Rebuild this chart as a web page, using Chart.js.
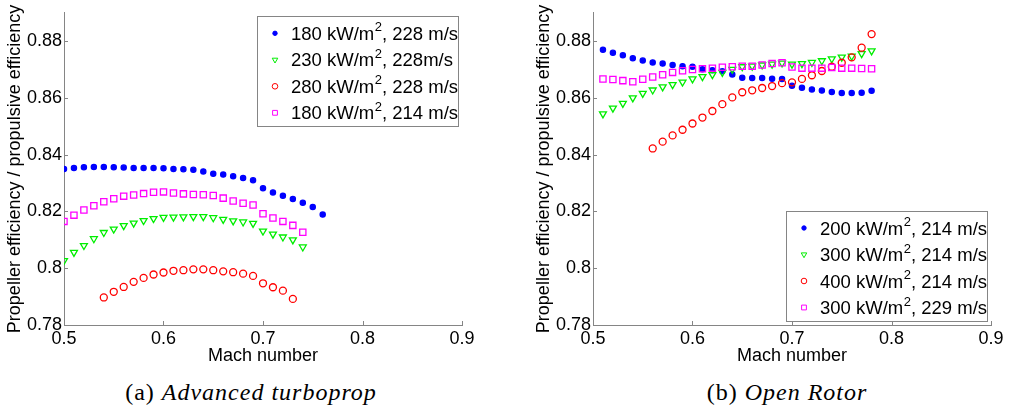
<!DOCTYPE html>
<html lang="en">
<head>
    <meta charset="UTF-8">
    <title>Propeller efficiency vs Mach number</title>
    <script src="https://cdn.jsdelivr.net/npm/chart.js"></script>

    <style>
        body {
            margin: 0;
            background: #fff;
            width: 1013px;
            height: 415px;
            position: relative;
            overflow: hidden;
        }

        canvas {
            position: absolute;
            top: 0;
        }

        #chartA { left: 0; }
        #chartB { left: 529px; }

        .caption {
            position: absolute;
            top: 378px;
            width: 500px;
            text-align: center;
            font-family: "Liberation Serif", "Times New Roman", serif;
            font-size: 24px;
            line-height: 28px;
            letter-spacing: 1px;
            color: #000;
        }
    </style>
</head>
<body>

    <canvas id="chartA" width="484" height="370"></canvas>
    <canvas id="chartB" width="484" height="370"></canvas>

    <div class="caption" style="left: 1px;">(a) <i>Advanced turboprop</i></div>
    <div class="caption" style="left: 537px;">(b) <i>Open Rotor</i></div>

    <script>
        // axes
        const xTicks = [0.5, 0.6, 0.7, 0.8, 0.9];
        const yTicks = [0.78, 0.8, 0.82, 0.84, 0.86, 0.88];

        // (a) advanced turboprop
        const machA = [0.50, 0.51, 0.52, 0.53, 0.54, 0.55, 0.56, 0.57, 0.58, 0.59,
                       0.60, 0.61, 0.62, 0.63, 0.64, 0.65, 0.66, 0.67, 0.68, 0.69,
                       0.70, 0.71, 0.72, 0.73, 0.74, 0.75, 0.76];
        const labelsA = ['180 kW/m^2, 228 m/s', '230 kW/m^2, 228m/s', '280 kW/m^2, 228 m/s', '180 kW/m^2, 214 m/s'];
        const effA180 = [0.8350, 0.8353, 0.8356, 0.8357, 0.8357, 0.8356, 0.8355, 0.8353, 0.8353, 0.8353,
                         0.8352, 0.8350, 0.8349, 0.8347, 0.8341, 0.8333, 0.8330, 0.8324, 0.8318, 0.8310,
                         0.8282, 0.8267, 0.8255, 0.8244, 0.8231, 0.8216, 0.8189];
        const effA230 = [0.8027, 0.8056, 0.8080, 0.8104, 0.8126, 0.8138, 0.8150, 0.8159, 0.8168, 0.8175,
                         0.8179, 0.8180, 0.8181, 0.8182, 0.8182, 0.8178, 0.8172, 0.8167, 0.8163, 0.8158,
                         0.8131, 0.8120, 0.8110, 0.8100, 0.8075];
        const effA280 = [0.7897, 0.7917, 0.7934, 0.7952, 0.7966, 0.7978, 0.7985, 0.7991, 0.7993, 0.7996,
                         0.7996, 0.7993, 0.7989, 0.7986, 0.7981, 0.7973, 0.7947, 0.7933, 0.7921, 0.7892];
        const effA180b = [0.8165, 0.8187, 0.8205, 0.8220, 0.8234, 0.8245, 0.8254, 0.8258, 0.8263, 0.8268,
                          0.8269, 0.8265, 0.8262, 0.8260, 0.8259, 0.8256, 0.8247, 0.8237, 0.8229, 0.8223,
                          0.8192, 0.8177, 0.8165, 0.8151, 0.8127];

        // (b) open rotor
        const machB = [0.51, 0.52, 0.53, 0.54, 0.55, 0.56, 0.57, 0.58, 0.59, 0.60,
                       0.61, 0.62, 0.63, 0.64, 0.65, 0.66, 0.67, 0.68, 0.69, 0.70,
                       0.71, 0.72, 0.73, 0.74, 0.75, 0.76, 0.77, 0.78];
        const labelsB = ['200 kW/m^2, 214 m/s', '300 kW/m^2, 214 m/s', '400 kW/m^2, 214 m/s', '300 kW/m^2, 229 m/s'];
        const effB200 = [0.8770, 0.8759, 0.8750, 0.8740, 0.8732, 0.8725, 0.8721, 0.8716, 0.8712, 0.8710,
                         0.8701, 0.8698, 0.8694, 0.8683, 0.8671, 0.8670, 0.8670, 0.8668, 0.8667, 0.8643,
                         0.8636, 0.8630, 0.8626, 0.8621, 0.8617, 0.8617, 0.8618, 0.8625];
        const effB300 = [0.8544, 0.8564, 0.8581, 0.8600, 0.8616, 0.8628, 0.8639, 0.8647, 0.8656, 0.8667,
                         0.8675, 0.8682, 0.8690, 0.8701, 0.8710, 0.8712, 0.8716, 0.8719, 0.8723, 0.8719,
                         0.8721, 0.8725, 0.8731, 0.8738, 0.8744, 0.8747, 0.8756, 0.8766];
        const effB400 = [0.8422, 0.8446, 0.8468, 0.8488, 0.8510, 0.8531, 0.8554, 0.8578, 0.8602, 0.8620,
                         0.8627, 0.8635, 0.8642, 0.8652, 0.8655, 0.8667, 0.8680, 0.8695, 0.8710, 0.8724,
                         0.8743, 0.8777, 0.8825];
        const effB300b = [0.8667, 0.8665, 0.8661, 0.8657, 0.8666, 0.8674, 0.8682, 0.8690, 0.8696, 0.8700,
                          0.8703, 0.8705, 0.8708, 0.8710, 0.8712, 0.8712, 0.8716, 0.8721, 0.8724, 0.8709,
                          0.8705, 0.8705, 0.8705, 0.8707, 0.8705, 0.8705, 0.8704, 0.8703];

        const axisGray = '#858585';
        const fontFamily = '"Liberation Sans", Arial, Helvetica, sans-serif';

        Chart.defaults.font.family = fontFamily;
        Chart.defaults.font.size = 18;
        Chart.defaults.color = '#000';

        // marker look per series slot: blue dots, green down-triangles, red circles, magenta squares
        const markers = [
            { pointStyle: 'circle', color: '#0000ff', fill: '#0000ff', radius: 2.6, legendRadius: 2.2, rotation: 0 },
            { pointStyle: 'triangle', color: '#00ee00', fill: 'rgba(0,0,0,0)', radius: 4, legendRadius: 3.2, rotation: 180 },
            { pointStyle: 'circle', color: '#ff0000', fill: 'rgba(0,0,0,0)', radius: 3.5, legendRadius: 2.8, rotation: 0 },
            { pointStyle: 'rect', color: '#ff00ff', fill: 'rgba(0,0,0,0)', radius: 4.4, legendRadius: 3.4, rotation: 0 }
        ];

        function toPoints(xs, ys) {
            return ys.map((y, i) => ({ x: xs[i], y: y }));
        }

        function makeDataset(label, xs, ys, slot) {
            const m = markers[slot];
            return {
                label: label,
                data: toPoints(xs, ys),
                showLine: false,
                pointStyle: m.pointStyle,
                pointRotation: m.rotation,
                pointRadius: m.radius,
                pointBorderWidth: 1.3,
                pointBorderColor: m.color,
                pointBackgroundColor: m.fill,
                borderColor: m.color,
                backgroundColor: m.fill,
                legendRadius: m.legendRadius,
                order: 4 - slot
            };
        }

        // small tick marks pointing into the plot, like the matlab axes
        const innerTicks = {
            id: 'innerTicks',
            afterDraw(chart) {
                const { ctx, chartArea, scales } = chart;
                ctx.save();
                ctx.strokeStyle = axisGray;
                ctx.lineWidth = 1;
                ctx.beginPath();
                scales.x.ticks.forEach(t => {
                    const px = Math.round(scales.x.getPixelForValue(t.value)) + 0.5;
                    ctx.moveTo(px, chartArea.bottom);
                    ctx.lineTo(px, chartArea.bottom - 4);
                });
                scales.y.ticks.forEach(t => {
                    const py = Math.round(scales.y.getPixelForValue(t.value)) + 0.5;
                    ctx.moveTo(chartArea.left, py);
                    ctx.lineTo(chartArea.left + 4, py);
                });
                ctx.stroke();
                ctx.restore();
            }
        };

        function drawMarker(ctx, ds, x, y) {
            ctx.fillStyle = ds.pointBackgroundColor;
            ctx.strokeStyle = ds.pointBorderColor;
            if (Chart.helpers && Chart.helpers.drawPoint) {
                Chart.helpers.drawPoint(ctx, {
                    pointStyle: ds.pointStyle,
                    rotation: ds.pointRotation,
                    radius: ds.legendRadius,
                    borderWidth: 1.2
                }, x, y);
            } else {
                ctx.lineWidth = 1.2;
                ctx.beginPath();
                ctx.arc(x, y, ds.legendRadius, 0, Math.PI * 2);
                ctx.fill();
                ctx.stroke();
            }
        }

        // boxed legend inside the axes, label text "kW/m^2" gets a raised 2
        const boxLegend = {
            id: 'boxLegend',
            afterDraw(chart, args, opts) {
                const { ctx, chartArea } = chart;
                const w = opts.width, h = opts.height;
                const x = chartArea.right - opts.marginRight - w;
                const y = opts.corner === 'top'
                    ? chartArea.top + opts.marginTop
                    : chartArea.bottom - opts.marginBottom - h;

                ctx.save();
                ctx.fillStyle = '#fff';
                ctx.fillRect(x, y, w, h);
                ctx.strokeStyle = axisGray;
                ctx.lineWidth = 1;
                ctx.strokeRect(Math.round(x) + 0.5, Math.round(y) + 0.5, Math.round(w), Math.round(h));

                chart.data.datasets.forEach((ds, i) => {
                    const cy = y + opts.first + i * opts.spacing;
                    drawMarker(ctx, ds, x + 18.5, cy - 1.5);

                    const parts = ds.label.split('^');
                    const sup = parts[1].charAt(0);
                    const rest = parts[1].slice(1);
                    let tx = x + 34.5;
                    ctx.fillStyle = '#000';
                    ctx.textBaseline = 'middle';
                    ctx.textAlign = 'left';
                    ctx.font = '18.5px ' + fontFamily;
                    ctx.fillText(parts[0], tx, cy);
                    tx += ctx.measureText(parts[0]).width + 0.5;
                    ctx.font = '13px ' + fontFamily;
                    ctx.fillText(sup, tx, cy - 7);
                    tx += ctx.measureText(sup).width;
                    ctx.font = '18.5px ' + fontFamily;
                    ctx.fillText(rest, tx, cy);
                });
                ctx.restore();
            }
        };

        function makeChart(id, datasets, corner) {
            const ctx = document.getElementById(id).getContext('2d');
            return new Chart(ctx, {
                type: 'scatter',
                data: { datasets: datasets },
                plugins: [innerTicks, boxLegend],
                options: {
                    responsive: false,
                    animation: false,
                    layout: { padding: { top: 12, right: 22, bottom: 0, left: 0 } },
                    plugins: {
                        legend: { display: false },
                        tooltip: { enabled: false },
                        boxLegend: {
                            corner: corner,
                            width: 201,
                            height: 110,
                            marginRight: 4.5,
                            marginTop: 3.5,
                            marginBottom: 4,
                            first: 18.5,
                            spacing: 26.5
                        }
                    },
                    scales: {
                        x: {
                            type: 'linear',
                            min: 0.5,
                            max: 0.9,
                            afterBuildTicks: s => { s.ticks = xTicks.map(v => ({ value: v })); },
                            afterFit: s => { s.height = 45; },
                            grid: { display: false, drawTicks: false },
                            border: { display: true, color: axisGray, width: 1 },
                            ticks: {
                                padding: 3,
                                maxRotation: 0,
                                callback: v => String(Math.round(v * 10) / 10)
                            },
                            title: {
                                display: true,
                                text: 'Mach number',
                                padding: { top: 0, bottom: 3 }
                            }
                        },
                        y: {
                            type: 'linear',
                            min: 0.78,
                            max: 0.89,
                            afterBuildTicks: s => { s.ticks = yTicks.map(v => ({ value: v })); },
                            afterFit: s => { s.width = 64; },
                            grid: { display: false, drawTicks: false },
                            border: { display: true, color: axisGray, width: 1 },
                            ticks: {
                                padding: 2,
                                callback: v => String(Math.round(v * 100) / 100)
                            },
                            title: {
                                display: true,
                                text: 'Propeller efficiency / propulsive efficiency',
                                padding: { top: 4, bottom: 0 }
                            }
                        }
                    }
                }
            });
        }

        makeChart('chartA', [
            makeDataset(labelsA[0], machA, effA180, 0),
            makeDataset(labelsA[1], machA, effA230, 1),
            makeDataset(labelsA[2], machA.slice(4), effA280, 2),
            makeDataset(labelsA[3], machA, effA180b, 3)
        ], 'top');

        makeChart('chartB', [
            makeDataset(labelsB[0], machB, effB200, 0),
            makeDataset(labelsB[1], machB, effB300, 1),
            makeDataset(labelsB[2], machB.slice(5), effB400, 2),
            makeDataset(labelsB[3], machB, effB300b, 3)
        ], 'bottom');
    </script>

</body>
</html>
